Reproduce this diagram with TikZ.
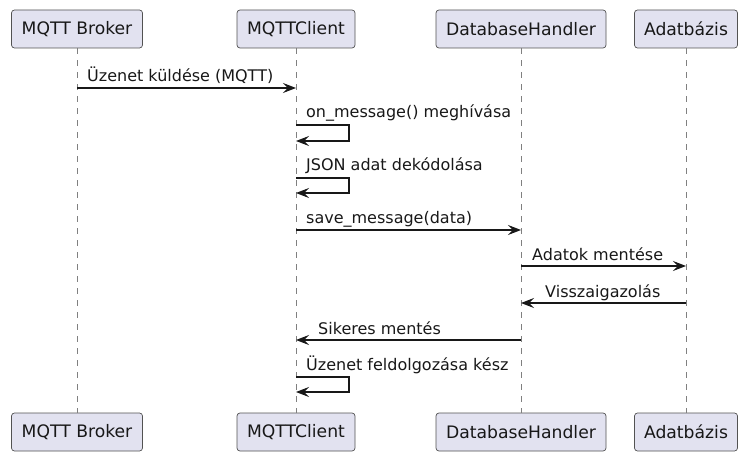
\documentclass[tikz,border=0pt]{standalone}
\usepackage{fontspec}
\setmainfont{DejaVu Sans}
\usepackage{xcolor}
\usetikzlibrary{arrows.meta, positioning}
\definecolor{partfill}{HTML}{E2E2F0}
\definecolor{linecol}{HTML}{181818}

\begin{document}
\begin{tikzpicture}[x=1pt, y=-1pt,
    participant/.style={draw=linecol!75, line width=0.7pt, fill=partfill, rounded corners=3pt,
        minimum height=38pt, inner xsep=0pt, text=linecol, font=\fontsize{17.2}{20}\selectfont},
    lifeline/.style={draw=linecol!55, line width=0.7pt, dash pattern=on 6pt off 6pt},
    msg/.style={draw=linecol, line width=1.1pt, -{Stealth[length=13pt,width=10pt,inset=5pt]}},
    msglabel/.style={inner sep=0pt, anchor=base west, text=linecol, font=\fontsize{16}{19}\selectfont}]
        \useasboundingbox (0,0) rectangle (747,473);
        % participants
        \node[participant, minimum width=131pt] (brokT) at (77,29) {MQTT Broker};
        \node[participant, minimum width=118pt] (clientT) at (296,29) {MQTTClient};
        \node[participant, minimum width=170pt] (handlerT) at (521,29) {DatabaseHandler};
        \node[participant, minimum width=103pt] (dbT) at (686,29) {Adatbázis};
        \node[participant, minimum width=131pt] (brokB) at (77,432) {MQTT Broker};
        \node[participant, minimum width=118pt] (clientB) at (296,432) {MQTTClient};
        \node[participant, minimum width=170pt] (handlerB) at (521,432) {DatabaseHandler};
        \node[participant, minimum width=103pt] (dbB) at (686,432) {Adatbázis};
        \begin{scope}[on background layer/.try]
        \foreach \p in {brok,client,handler,db} \draw[lifeline] (\p T) -- (\p B);
        \end{scope}
        % message ends
        \coordinate (m1a) at (brokT |- 0,88);    \coordinate (m1b) at (clientT |- 0,88);
        \coordinate (m2a) at (clientT |- 0,125); \coordinate (m2b) at (clientT |- 0,141);
        \coordinate (m3a) at (clientT |- 0,178); \coordinate (m3b) at (clientT |- 0,193);
        \coordinate (m4a) at (clientT |- 0,230); \coordinate (m4b) at (handlerT |- 0,230);
        \coordinate (m5a) at (handlerT |- 0,266); \coordinate (m5b) at (dbT |- 0,266);
        \coordinate (m6a) at (dbT |- 0,303);     \coordinate (m6b) at (handlerT |- 0,303);
        \coordinate (m7a) at (handlerT |- 0,340); \coordinate (m7b) at (clientT |- 0,340);
        \coordinate (m8a) at (clientT |- 0,377); \coordinate (m8b) at (clientT |- 0,392);
        \foreach \to/\from in
        {m1a/m1b,m4a/m4b,m5a/m5b,m6a/m6b,m7a/m7b} \draw[msg] (\to)--(\from);
        \foreach \to/\from in
        {m2a/m2b,m3a/m3b,m8a/m8b} \draw[msg] (\to) -- ++(53,0) |- (\from);
        % labels
        \node[msglabel] (l1) at (87,82) {Üzenet küldése (MQTT)};
        \node[msglabel] (l2) at (306,118) {on\_message() meghívása};
        \node[msglabel] (l3) at (306,171) {JSON adat dekódolása};
        \node[msglabel] (l4) at (306,224) {save\_message(data)};
        \node[msglabel] (l5) at (532,260) {Adatok mentése};
        \node[msglabel] (l6) at (545,297) {Visszaigazolás};
        \node[msglabel] (l7) at (318,334) {Sikeres mentés};
        \node[msglabel] (l8) at (306,370) {Üzenet feldolgozása kész};
\end{tikzpicture}
\end{document}
